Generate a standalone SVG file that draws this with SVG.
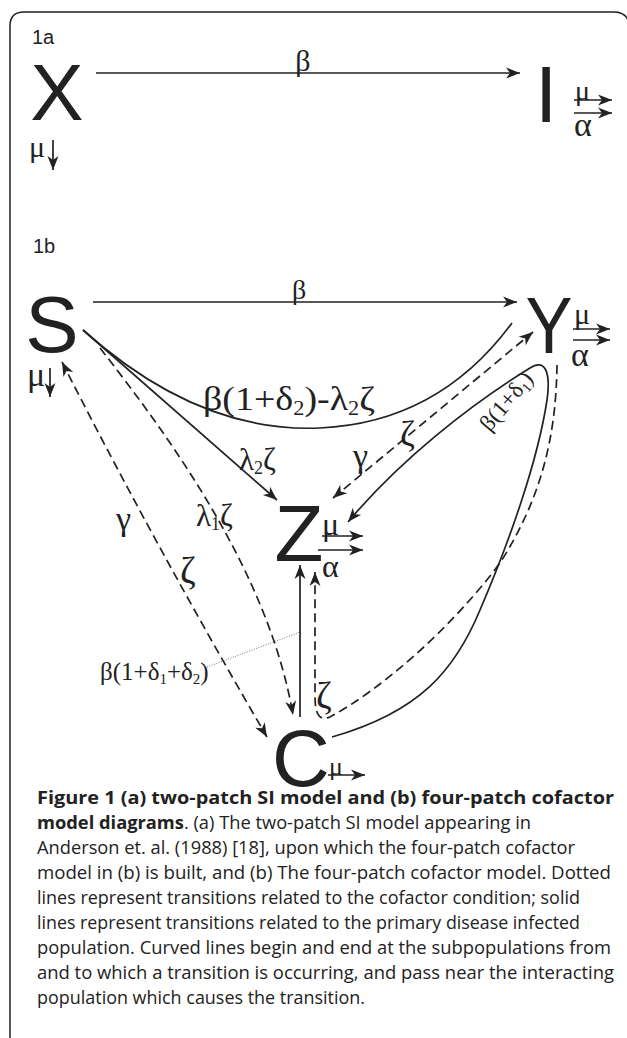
<svg xmlns="http://www.w3.org/2000/svg" width="627" height="1038" viewBox="0 0 627 1038">
<style>
.ln{fill:none;stroke:#222;stroke-width:1.7}
.ds{stroke-dasharray:9 5}
.dot{fill:none;stroke:#555;stroke-width:0.8;stroke-dasharray:1 1.5}
.big{font-family:"Liberation Sans",Arial,sans-serif;font-size:80px;fill:#222;text-anchor:middle}
.gr{font-family:"Liberation Serif","DejaVu Serif",serif;fill:#222}
.lab{font-family:"Liberation Sans",Arial,sans-serif;font-size:20px;fill:#222}
.cap{font-family:"Open Sans","DejaVu Sans",sans-serif;font-size:18px;fill:#222}
.b{font-weight:bold}
</style>
<defs>
<marker id="ah" viewBox="-15 -6 16 12" refX="0" refY="0" markerWidth="16" markerHeight="12" markerUnits="userSpaceOnUse" orient="auto-start-reverse">
<path d="M0,0 L-14,-5.5 L-10,0 L-14,5.5 Z" fill="#222"/>
</marker>
</defs>
<path d="M10,1038 V26 Q10,12 24,12 H614 Q627,12 629,24" fill="none" stroke="#222" stroke-width="1.5"/>
<text class="lab" x="32" y="44">1a</text>
<text class="lab" x="33" y="253">1b</text>

<g id="node-X"><text class="big" x="57" y="120">X</text>
<text class="gr" x="29" y="157" font-size="30">μ</text></g>
<g id="node-I"><text class="big" x="546" y="122" font-size="82">I</text>
<text class="gr" x="575" y="100" font-size="28">μ</text>
<text class="gr" x="574" y="136" font-size="34">α</text></g>
<g id="node-S"><text class="big" x="52" y="352">S</text>
<text class="gr" x="27" y="386" font-size="34">μ</text></g>
<g id="node-Y"><text class="big" x="549" y="353" transform="translate(549,0) scale(0.88,1) translate(-549,0)">Y</text>
<text class="gr" x="574" y="324" font-size="30">μ</text>
<text class="gr" x="571" y="366" font-size="34">α</text></g>
<g id="node-Z"><text class="big" x="299" y="561">Z</text>
<text class="gr" x="322" y="535" font-size="32">μ</text>
<text class="gr" x="322" y="577" font-size="32">α</text></g>
<g id="node-C"><text class="big" x="301" y="786">C</text>
<text class="gr" x="329" y="775" font-size="26">μ</text></g>

<g id="connectors">
<path class="ln" d="M96,73 H520" marker-end="url(#ah)"/>
<path class="ln" d="M53,140 V170" marker-end="url(#ah)"/>
<path class="ln" d="M574,100 H612" marker-end="url(#ah)"/>
<path class="ln" d="M574,113 H612" marker-end="url(#ah)"/>
<path class="ln" d="M93,302 H517" marker-end="url(#ah)"/>
<path class="ln" d="M50,368 V397" marker-end="url(#ah)"/>
<path class="ln" d="M573,329 H610" marker-end="url(#ah)"/>
<path class="ln" d="M573,340 H610" marker-end="url(#ah)"/>
<path class="ln" d="M322,536 H363" marker-end="url(#ah)"/>
<path class="ln" d="M318,550 H363" marker-end="url(#ah)"/>
<path class="ln" d="M328,775 H365" marker-end="url(#ah)"/>
<path class="ln" d="M83,330 C150,390 230,432 320,428 C410,424 470,380 512,323"/>
<path class="ln" d="M83,330 L277,500" marker-end="url(#ah)"/>
<path class="ln ds" d="M62,362 Q155,545 267,737" marker-start="url(#ah)" marker-end="url(#ah)"/>
<path class="ln ds" d="M100,348 C180,450 270,580 293,715" marker-end="url(#ah)"/>
<path class="ln ds" d="M333,498 L533,332" marker-start="url(#ah)" marker-end="url(#ah)"/>
<path class="ln" d="M332,737 C420,712 455,670 480,610 C510,540 538,460 547,400 C551,372 545,358 530,368 C470,405 400,460 348,522" marker-end="url(#ah)"/>
<path class="ln ds" d="M557,365 C556,440 540,500 500,563 C450,630 380,690 330,717 C318,722 315,712 315,695 L315,572" marker-end="url(#ah)"/>
<path class="ln" d="M300,717 L300,565" marker-end="url(#ah)"/>
<path class="dot" d="M207,667 L300,632"/>
</g>

<g id="labels">
<text class="gr" x="303" y="71" font-size="30" text-anchor="middle">β</text>
<text class="gr" x="299" y="299" font-size="28" text-anchor="middle">β</text>
<text class="gr" x="203" y="410" font-size="34" textLength="172" lengthAdjust="spacingAndGlyphs">β(1+δ<tspan font-size="20" dy="5">2</tspan><tspan dy="-5">)-λ</tspan><tspan font-size="20" dy="5">2</tspan><tspan dy="-5">ζ</tspan></text>
<text class="gr" x="239" y="470" font-size="31">λ<tspan font-size="18" dy="4">2</tspan><tspan dy="-4">ζ</tspan></text>
<text class="gr" x="196" y="526" font-size="31">λ<tspan font-size="18" dy="4">1</tspan><tspan dy="-4">ζ</tspan></text>
<text class="gr" x="353" y="467" font-size="34">γ</text>
<text class="gr" x="400" y="446" font-size="36">ζ</text>
<text class="gr" x="116" y="530" font-size="34">γ</text>
<text class="gr" x="180" y="583" font-size="38">ζ</text>
<text class="gr" x="316" y="708" font-size="38">ζ</text>
<text class="gr" x="100" y="680" font-size="25">β(1+δ<tspan font-size="15" dy="4">1</tspan><tspan dy="-4">+δ</tspan><tspan font-size="15" dy="4">2</tspan><tspan dy="-4">)</tspan></text>
<text class="gr" font-size="23" text-anchor="middle" transform="translate(512,406) rotate(-50)">β(1+δ<tspan font-size="14" dy="4">1</tspan><tspan dy="-4">)</tspan></text>
</g>

<g id="caption">
<text class="cap b" x="37" y="804" textLength="577" lengthAdjust="spacingAndGlyphs">Figure 1 (a) two-patch SI model and (b) four-patch cofactor</text>
<text class="cap" x="37" y="829" textLength="494" lengthAdjust="spacingAndGlyphs"><tspan class="b">model diagrams</tspan>. (a) The two-patch SI model appearing in</text>
<text class="cap" x="37" y="854" textLength="538" lengthAdjust="spacingAndGlyphs">Anderson et. al. (1988) [18], upon which the four-patch cofactor</text>
<text class="cap" x="37" y="879" textLength="574" lengthAdjust="spacingAndGlyphs">model in (b) is built, and (b) The four-patch cofactor model. Dotted</text>
<text class="cap" x="37" y="904" textLength="543" lengthAdjust="spacingAndGlyphs">lines represent transitions related to the cofactor condition; solid</text>
<text class="cap" x="37" y="929" textLength="543" lengthAdjust="spacingAndGlyphs">lines represent transitions related to the primary disease infected</text>
<text class="cap" x="37" y="954" textLength="574" lengthAdjust="spacingAndGlyphs">population. Curved lines begin and end at the subpopulations from</text>
<text class="cap" x="37" y="979" textLength="577" lengthAdjust="spacingAndGlyphs">and to which a transition is occurring, and pass near the interacting</text>
<text class="cap" x="37" y="1004" textLength="328" lengthAdjust="spacingAndGlyphs">population which causes the transition.</text>
</g>
</svg>
